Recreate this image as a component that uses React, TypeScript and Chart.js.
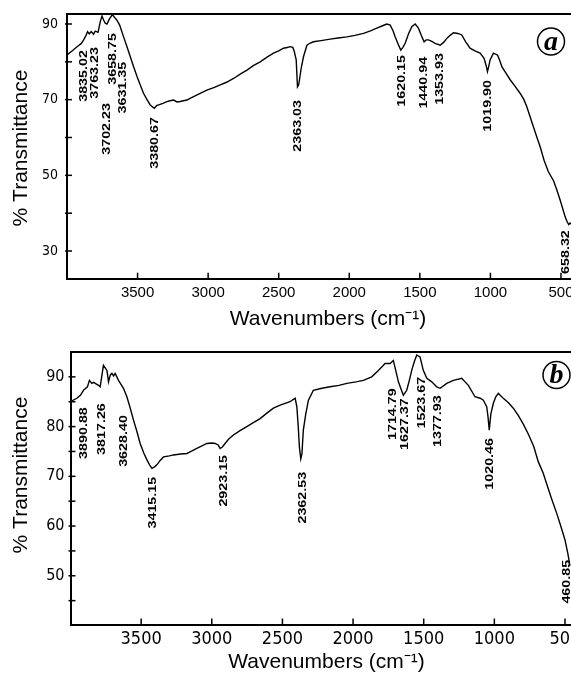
import React, { useEffect, useRef } from "react";
import { Chart, registerables } from "chart.js";
Chart.register(...registerables);

// ---------- Panel (a) spectrum ----------
const wavenumbersA = [
  4000, 3960, 3929, 3900, 3882, 3865, 3854, 3842, 3828, 3812, 3800, 3780, 3765, 3752, 3740, 3729, 3717, 3700, 3680, 3670,
  3658, 3646, 3627, 3599, 3575, 3552, 3528, 3504, 3480, 3458, 3430, 3410, 3382, 3365, 3351, 3320, 3292, 3270, 3245, 3220,
  3198, 3175, 3150, 3125, 3103, 3060, 3009, 2960, 2914, 2870, 2820, 2770, 2725, 2680, 2631, 2580, 2537, 2500, 2466, 2440,
  2419, 2400, 2390, 2376, 2367, 2358, 2353, 2340, 2324, 2300, 2280, 2254, 2200, 2135, 2080, 2017, 1960, 1899, 1850, 1805,
  1760, 1734, 1710, 1690, 1675, 1655, 1635, 1620, 1604, 1580, 1557, 1533, 1510, 1490, 1470, 1455, 1439, 1415, 1392, 1356,
  1330, 1309, 1285, 1262, 1230, 1203, 1175, 1144, 1110, 1073, 1045, 1030, 1021, 1012, 1002, 979, 960, 950, 935, 919,
  890, 859, 825, 790, 765, 742, 720, 696, 672, 648, 620, 590, 552, 530, 506, 490, 471, 455, 445, 436, 430,
];
const transmittanceA = [
  81.8, 83.0, 84.0, 84.8, 85.8, 87.0, 88.0, 87.4, 88.0, 87.3, 88.1, 87.8, 90.5, 92.1, 91.0, 90.2, 90.0, 91.3, 92.4, 92.1,
  91.5, 91.0, 89.7, 86.6, 84.0, 81.4, 78.7, 76.1, 73.8, 71.7, 69.8, 68.6, 67.7, 68.4, 68.6, 69.0, 69.5, 69.7, 69.9, 69.4,
  69.5, 69.7, 69.9, 70.4, 70.8, 71.6, 72.5, 73.2, 73.9, 74.6, 75.6, 76.8, 77.8, 79.0, 80.0, 81.3, 82.3, 82.9, 83.6, 83.8,
  84.0, 83.8, 82.8, 80.5, 73.4, 74.0, 75.2, 78.5, 81.4, 84.4, 84.9, 85.3, 85.6, 86.0, 86.3, 86.6, 87.0, 87.5, 88.2, 88.9,
  89.6, 90.0, 89.7, 88.2, 86.6, 84.8, 83.1, 83.8, 84.9, 87.4, 89.3, 90.0, 88.9, 87.0, 85.3, 85.8, 85.8, 85.4, 84.9, 84.4,
  85.2, 86.2, 87.0, 87.7, 87.5, 87.1, 85.3, 83.6, 82.9, 82.3, 80.9, 79.0, 77.4, 78.8, 80.5, 82.3, 82.0, 81.8, 80.5, 78.7,
  77.0, 75.2, 73.5, 71.7, 70.2, 68.1, 65.6, 62.9, 60.2, 57.6, 54.0, 51.0, 48.5, 46.2, 43.5, 41.5, 39.1, 37.6, 37.0, 37.4, 37.2,
];
const peakTextA = ["3835.02", "3763.23", "3702.23", "3658.75", "3631.35", "3380.67", "2363.03", "1620.15", "1440.94", "1353.93", "1019.90", "658.32"];
const peakWnA = [3880, 3805, 3717, 3672, 3600, 3375, 2367, 1628, 1470, 1356, 1014, 462];
const peakTopA = [83.1, 83.9, 69.1, 87.6, 80.0, 65.4, 69.9, 81.8, 81.3, 82.3, 75.2, 35.5];

// ---------- Panel (b) spectrum ----------
const wavenumbersB = [
  4000, 3955, 3930, 3908, 3880, 3866, 3849, 3837, 3825, 3802, 3790, 3767, 3742, 3731, 3718, 3707, 3695, 3684, 3660, 3625,
  3601, 3578, 3554, 3530, 3507, 3480, 3459, 3440, 3424, 3405, 3389, 3365, 3342, 3300, 3271, 3220, 3176, 3140, 3106, 3070,
  3035, 3000, 2976, 2955, 2941, 2925, 2906, 2880, 2847, 2800, 2752, 2700, 2658, 2610, 2564, 2516, 2446, 2410, 2398, 2388,
  2380, 2370, 2362, 2352, 2335, 2316, 2281, 2220, 2163, 2100, 2044, 1980, 1927, 1868, 1821, 1790, 1774, 1738, 1715, 1698,
  1679, 1660, 1644, 1620, 1600, 1585, 1565, 1549, 1526, 1503, 1478, 1443, 1408, 1384, 1337, 1290, 1231, 1184, 1137, 1100,
  1078, 1054, 1045, 1036, 1025, 1007, 990, 972, 955, 937, 900, 866, 830, 795, 760, 721, 690, 654, 630, 595,
  559, 530, 500, 480, 465,
];
const transmittanceB = [
  85.0, 85.7, 86.3, 87.3, 88.0, 89.3, 88.7, 88.9, 88.7, 88.3, 88.0, 92.3, 91.3, 89.0, 90.4, 90.7, 90.2, 90.7, 89.3, 87.7,
  86.0, 83.8, 81.3, 79.0, 76.6, 74.6, 73.3, 72.3, 71.6, 71.9, 72.3, 73.2, 73.9, 74.1, 74.3, 74.5, 74.6, 75.1, 75.6, 76.1,
  76.6, 76.7, 76.6, 76.3, 75.6, 75.9, 76.6, 77.5, 78.3, 79.2, 80.0, 80.9, 81.6, 82.7, 83.7, 84.3, 85.0, 85.7, 84.0, 80.0,
  75.9, 73.5, 74.5, 79.3, 82.5, 85.3, 87.3, 87.7, 88.0, 88.3, 88.7, 89.0, 89.3, 90.0, 91.3, 92.2, 92.7, 92.7, 93.3, 91.3,
  89.0, 87.5, 86.3, 87.3, 89.5, 91.3, 93.2, 94.4, 94.0, 91.3, 89.7, 89.0, 88.0, 87.7, 88.7, 89.3, 89.7, 88.3, 86.0, 85.7,
  85.3, 84.0, 82.0, 79.3, 82.5, 84.7, 86.0, 86.7, 86.2, 85.7, 84.8, 83.7, 82.2, 80.5, 78.5, 76.0, 73.0, 70.6, 68.5, 65.5,
  62.6, 60.0, 57.2, 54.5, 52.0,
];
const peakTextB = ["3890.88", "3817.26", "3628.40", "3415.15", "2923.15", "2362.53", "1714.79", "1627.37", "1523.67", "1377.93", "1020.46", "460.85"];
const peakWnB = [3908, 3778, 3625, 3413, 2913, 2352, 1718, 1630, 1514, 1396, 1031, 488];
const peakTopB = [83.9, 84.7, 82.3, 69.9, 74.3, 70.9, 87.7, 85.7, 90.0, 86.3, 77.7, 53.2];

// ---------- Axes ----------
const xTickValues = [3500, 3000, 2500, 2000, 1500, 1000, 500];
const yTicksA = [30, 40, 50, 60, 70, 80, 90];
const yLabelsA = [30, 50, 70, 90];
const yTicksB = [45, 50, 55, 60, 65, 70, 75, 80, 85, 90];
const yLabelsB = [50, 60, 70, 80, 90];
const xTitle = "Wavenumbers (cm\u207B\u00B9)";
const yTitle = "% Transmittance";

const NARROW = '"Liberation Sans Narrow", "DejaVu Sans Condensed", "Liberation Sans", Arial, sans-serif';
const SANS = '"Liberation Sans", Arial, Helvetica, sans-serif';

type PanelCfg = {
  top: number; height: number; padTop: number; yAxisW: number; xAxisH: number;
  xMin: number; yMin: number; yMax: number;
  wn: number[]; pct: number[]; yTicks: number[]; yLabels: number[];
  peakText: string[]; peakWn: number[]; peakTop: number[];
  xTickFont: { family: string; size: number }; xTickPad: number;
  yTickFont: { family: string; size: number }; yTickPad: number;
  yTitlePos: [number, number]; xTitlePos: [number, number];
  circle: [number, number, number]; letter: string;
};

const panelA: PanelCfg = {
  top: 0, height: 338, padTop: 14, yAxisW: 67, xAxisH: 59.3,
  xMin: 429, yMin: 22.68, yMax: 92.64,
  wn: wavenumbersA, pct: transmittanceA, yTicks: yTicksA, yLabels: yLabelsA,
  peakText: peakTextA, peakWn: peakWnA, peakTop: peakTopA,
  xTickFont: { family: SANS, size: 15 }, xTickPad: 5,
  yTickFont: { family: NARROW, size: 14 }, yTickPad: 9,
  yTitlePos: [21.7, 148], xTitlePos: [328, 319.7],
  circle: [551, 41.5, 13.5], letter: "a",
};

const panelB: PanelCfg = {
  top: 338, height: 339, padTop: 14, yAxisW: 70.5, xAxisH: 52.5,
  xMin: 457.5, yMin: 40.2, yMax: 95,
  wn: wavenumbersB, pct: transmittanceB, yTicks: yTicksB, yLabels: yLabelsB,
  peakText: peakTextB, peakWn: peakWnB, peakTop: peakTopB,
  xTickFont: { family: NARROW, size: 18 }, xTickPad: 4,
  yTickFont: { family: NARROW, size: 16 }, yTickPad: 6,
  yTitlePos: [21.7, 137], xTitlePos: [326.5, 324.7],
  circle: [556.5, 37, 13.5], letter: "b",
};

function Panel({ cfg }: { cfg: PanelCfg }) {
  const ref = useRef<HTMLCanvasElement>(null);
  useEffect(() => {
    if (!ref.current) return;
    const decor = {
      id: "decor" + cfg.letter,
      afterDraw(chart: any) {
        const { ctx, chartArea, scales } = chart;
        const xs = scales.x, ys = scales.y;
        ctx.save();
        ctx.strokeStyle = "#000";
        ctx.fillStyle = "#000";
        ctx.lineWidth = 1.5;
        const line = (x1: number, y1: number, x2: number, y2: number) => {
          ctx.beginPath(); ctx.moveTo(x1, y1); ctx.lineTo(x2, y2); ctx.stroke();
        };
        for (const v of xTickValues) {
          const px = xs.getPixelForValue(v);
          line(px, chartArea.bottom, px, chartArea.bottom - 6);
        }
        for (const v of cfg.yTicks) {
          const py = ys.getPixelForValue(v);
          line(chartArea.left - 2, py, chartArea.left + 5, py);
        }
        ctx.lineWidth = 2;
        line(chartArea.left, chartArea.top, chartArea.right, chartArea.top);
        // peak labels (rotated, elongated like the scanned print)
        ctx.font = "bold 11px " + SANS;
        for (let i = 0; i < cfg.peakText.length; i++) {
          const px = xs.getPixelForValue(cfg.peakWn[i]);
          const py = ys.getPixelForValue(cfg.peakTop[i]);
          ctx.save();
          ctx.translate(px, py);
          ctx.rotate(-Math.PI / 2);
          ctx.scale(1.3, 1);
          ctx.textAlign = "right";
          ctx.textBaseline = "middle";
          ctx.fillText(cfg.peakText[i], 0, 0);
          ctx.restore();
        }
        // axis titles
        ctx.font = "21px " + SANS;
        ctx.textAlign = "center";
        ctx.textBaseline = "middle";
        ctx.fillText(xTitle, cfg.xTitlePos[0], cfg.xTitlePos[1]);
        ctx.save();
        ctx.translate(cfg.yTitlePos[0], cfg.yTitlePos[1]);
        ctx.rotate(-Math.PI / 2);
        ctx.fillText(yTitle, 0, 0);
        ctx.restore();
        // circled panel letter
        ctx.lineWidth = 1.5;
        ctx.beginPath();
        ctx.arc(cfg.circle[0], cfg.circle[1], cfg.circle[2], 0, Math.PI * 2);
        ctx.stroke();
        ctx.font = 'italic bold 28px "Liberation Serif", "Times New Roman", serif';
        ctx.fillText(cfg.letter, cfg.circle[0], cfg.circle[1] + 1);
        ctx.restore();
      },
    };
    const chart = new Chart(ref.current, {
      type: "line",
      data: {
        datasets: [{
          data: cfg.wn.map((w, i) => ({ x: w, y: cfg.pct[i] })),
          borderColor: "#000",
          borderWidth: 1.4,
          pointRadius: 0,
          tension: 0,
          fill: false,
        }],
      },
      options: {
        animation: false,
        responsive: false,
        maintainAspectRatio: false,
        layout: { padding: { top: cfg.padTop, left: 0, right: 0, bottom: 0 } },
        plugins: { legend: { display: false }, tooltip: { enabled: false } },
        scales: {
          x: {
            type: "linear",
            reverse: true,
            min: cfg.xMin,
            max: 4000,
            grid: { display: false, drawTicks: false },
            border: { display: true, color: "#000", width: 2 },
            ticks: {
              color: "#000",
              font: cfg.xTickFont,
              padding: cfg.xTickPad,
              maxRotation: 0,
              autoSkip: false,
              callback: (v: any) => String(v),
            },
            afterBuildTicks: (s: any) => { s.ticks = xTickValues.map((v) => ({ value: v })); },
            afterFit: (s: any) => {
              s.height = cfg.xAxisH;
              s.paddingLeft = 0; s.paddingRight = 0; s.paddingTop = 0; s.paddingBottom = 0;
            },
          },
          y: {
            type: "linear",
            min: cfg.yMin,
            max: cfg.yMax,
            grid: { display: false, drawTicks: false },
            border: { display: true, color: "#000", width: 2 },
            ticks: {
              color: "#000",
              font: cfg.yTickFont,
              padding: cfg.yTickPad,
              autoSkip: false,
              callback: (v: any) => (cfg.yLabels.includes(v) ? String(v) : ""),
            },
            afterBuildTicks: (s: any) => { s.ticks = cfg.yTicks.map((v) => ({ value: v })); },
            afterFit: (s: any) => {
              s.width = cfg.yAxisW;
              s.paddingLeft = 0; s.paddingRight = 0; s.paddingTop = 0; s.paddingBottom = 0;
            },
          },
        },
      },
      plugins: [decor],
    } as any);
    return () => chart.destroy();
  }, []);
  return (
    <canvas
      ref={ref}
      width={571}
      height={cfg.height}
      style={{ position: "absolute", left: 0, top: cfg.top, width: 571, height: cfg.height, display: "block" }}
    />
  );
}

export default function App() {
  return (
    <div style={{ position: "absolute", left: 0, top: 0, width: 571, height: 677, background: "#fff" }}>
      <Panel cfg={panelA} />
      <Panel cfg={panelB} />
    </div>
  );
}
